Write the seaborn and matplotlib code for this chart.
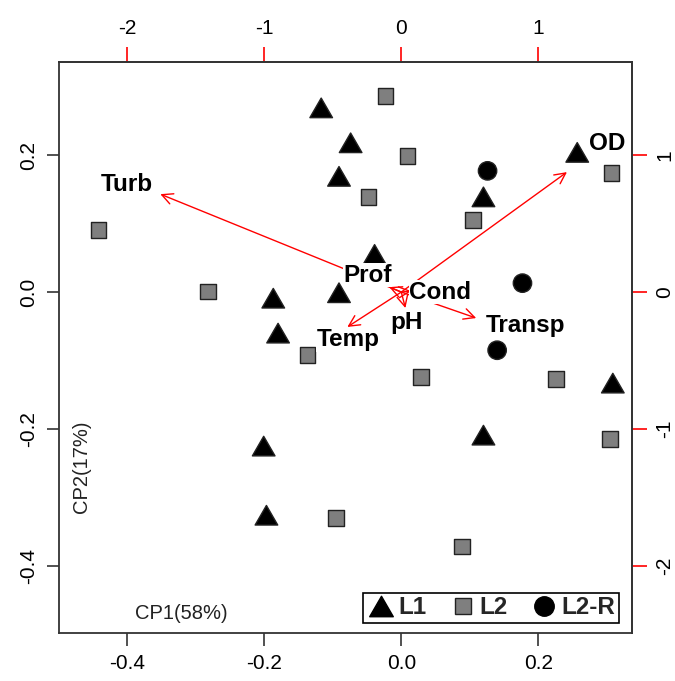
import numpy as np
import pandas as pd
import matplotlib
matplotlib.use("Agg")
import matplotlib.pyplot as plt
import seaborn as sns
from matplotlib.path import Path
from matplotlib.lines import Line2D
from matplotlib.transforms import Affine2D

# ---- sample scores (CP1, CP2) ----
l1_x = [-0.117, -0.074, -0.091, -0.039, -0.187, -0.091, -0.180, 0.257, 0.120, 0.309, 0.120, -0.201, -0.197]
l1_y = [0.269, 0.218, 0.169, 0.055, -0.009, -0.001, -0.060, 0.204, 0.139, -0.133, -0.209, -0.225, -0.326]
l2_x = [-0.023, 0.009, -0.048, -0.442, -0.282, 0.105, 0.307, -0.137, 0.029, 0.226, 0.305, -0.095, 0.089]
l2_y = [0.286, 0.199, 0.139, 0.091, 0.001, 0.105, 0.174, -0.092, -0.124, -0.127, -0.215, -0.330, -0.372]
l2r_x = [0.126, 0.177, 0.140]
l2r_y = [0.177, 0.013, -0.085]

# ---- variable loadings (arrow ends) and label positions ----
variables = ["Turb", "OD", "Temp", "Transp", "pH", "Prof", "Cond"]
load_x = [-1.76, 1.21, -0.394, 0.547, 0.03, -0.088, 0.073]
load_y = [0.715, 0.876, -0.255, -0.19, -0.117, 0.036, 0.007]
lab_x = [-2.007, 1.504, -0.387, 0.905, 0.036, -0.248, 0.285]
lab_y = [0.788, 1.088, -0.350, -0.241, -0.219, 0.124, 0.0]

groups = ["L1", "L2", "L2-R"]
x_ticks = [-0.4, -0.2, 0.0, 0.2]
y_ticks = [-0.4, -0.2, 0.0, 0.2]
top_ticks = [-2, -1, 0, 1]
right_ticks = [-2, -1, 0, 1]

df = pd.DataFrame({
    "CP1": l1_x + l2_x + l2r_x,
    "CP2": l1_y + l2_y + l2r_y,
    "grupo": ["L1"] * len(l1_x) + ["L2"] * len(l2_x) + ["L2-R"] * len(l2r_x),
})

sns.set_theme(style="white")
plt.rcParams['font.family'] = ['Liberation Sans', 'DejaVu Sans']

W, H = 675, 681
fig = plt.figure(figsize=(W / 100, H / 100), dpi=100)
L, R, T, B = 59, 632, 62, 633
ax = fig.add_axes([L / W, 1 - B / H, (R - L) / W, (B - T) / H])

tri = Path([(0, 0.866), (-1, -0.866), (1, -0.866), (0, 0.866)],
           [Path.MOVETO, Path.LINETO, Path.LINETO, Path.CLOSEPOLY])
markers = {"L1": tri, "L2": "s", "L2-R": "o"}
palette = {"L1": "black", "L2": "#7f7f7f", "L2-R": "black"}
sizes = {"L1": 265, "L2": 125, "L2-R": 175}

sns.scatterplot(data=df, x="CP1", y="CP2", hue="grupo", style="grupo", size="grupo",
                markers=markers, palette=palette, sizes=sizes, hue_order=groups,
                style_order=groups, size_order=groups,
                edgecolor="#222222", linewidth=1.0, legend=False, ax=ax, zorder=3)

ax.set_xlim(-0.5, 0.337)
ax.set_ylim(-0.498, 0.336)
ax.set_xlabel("")
ax.set_ylabel("")
ax.set_xticks(x_ticks)
ax.set_xticklabels([f"{v:.1f}" for v in x_ticks])
ax.set_yticks(y_ticks)
ax.set_yticklabels([f"{v:.1f}" for v in y_ticks], rotation=90, va="center")
ax.tick_params(axis="both", which="major", direction="out", length=9, width=1.2,
               color="#333333", labelsize=15, labelcolor="black", pad=6,
               bottom=True, left=True)
for sp in ax.spines.values():
    sp.set_color("#333333")
    sp.set_linewidth(1.3)

# secondary (loading) axes
scale = 5.0
secx = ax.secondary_xaxis("top", functions=(lambda v: v * scale, lambda v: v / scale))
secx.set_xticks(top_ticks)
secx.set_xticklabels([str(v) for v in top_ticks])
secx.tick_params(direction="out", length=11, width=1.2, color="red", labelsize=15,
                 labelcolor="black", pad=6)
secx.spines["top"].set_color("#333333")
secy = ax.secondary_yaxis("right", functions=(lambda v: v * scale, lambda v: v / scale))
secy.set_yticks(right_ticks)
secy.set_yticklabels([str(v) for v in right_ticks], rotation=90, va="center")
secy.tick_params(direction="out", length=11, width=1.2, color="red", labelsize=15,
                 labelcolor="black", pad=6)
secy.spines["right"].set_color("#333333")

trans = Affine2D().scale(1 / scale) + ax.transData
for vx, vy in zip(load_x, load_y):
    ax.annotate("", xy=(vx, vy), xytext=(0, 0), xycoords=trans, textcoords=trans,
                arrowprops=dict(arrowstyle="->,head_length=0.6,head_width=0.3",
                                color="red", lw=1.0, shrinkA=0, shrinkB=0,
                                mutation_scale=13), zorder=2)
for name, tx, ty in zip(variables, lab_x, lab_y):
    ax.text(tx, ty, name, transform=trans, ha="center", va="center",
            fontsize=17.5, fontweight="bold", color="black", zorder=4,
            bbox=dict(facecolor="white", edgecolor="none", pad=0.3))

ax.text(0.213, 0.035, "CP1(58%)", transform=ax.transAxes, ha="center", va="center",
        fontsize=14.5, color="#222222")
ax.text(0.040, 0.291, "CP2(17%)", transform=ax.transAxes, ha="center", va="center",
        fontsize=14.5, rotation=90, color="#222222")

handles = [
    Line2D([], [], linestyle="none", marker=tri, markersize=17, color="black"),
    Line2D([], [], linestyle="none", marker="s", markersize=12,
           markerfacecolor="#7f7f7f", markeredgecolor="#222222", markeredgewidth=1.0),
    Line2D([], [], linestyle="none", marker="o", markersize=14, color="black"),
]
leg = ax.legend(handles, groups, ncol=3, loc="lower right",
                bbox_to_anchor=(0.977, 0.0175), frameon=True, fancybox=False,
                edgecolor="black", framealpha=1, borderpad=0.15, handletextpad=0.1,
                columnspacing=0.9, handlelength=1.2, borderaxespad=0,
                prop=dict(weight="bold", size=17.5))
leg.get_frame().set_linewidth(1.2)

fig.savefig("out.png", dpi=100)
